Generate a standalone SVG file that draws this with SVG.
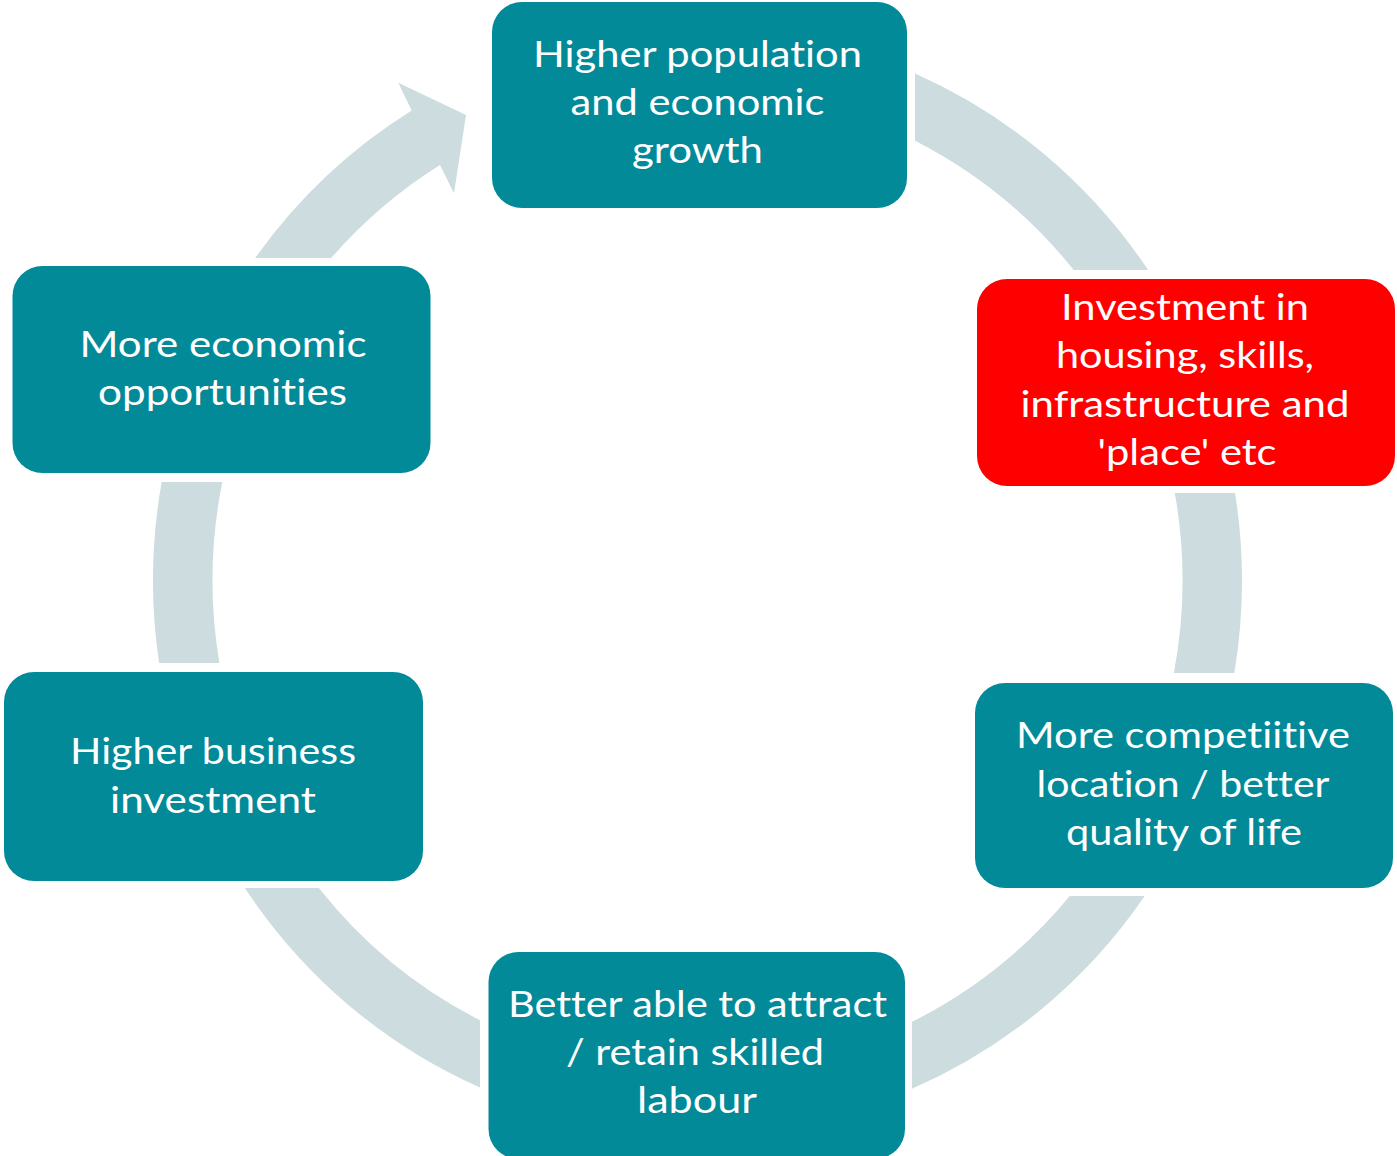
<svg xmlns="http://www.w3.org/2000/svg" width="1397" height="1156" viewBox="0 0 1397 1156">
  <style>
    .ring { fill: #CDDCDF; }
    .box { fill: #028A99; }
    .box.red { fill: #FF0000; }
    .lbl { fill: #FFFFFF; font-family: Lato, "Open Sans", "Liberation Sans", sans-serif; font-size: 36px; text-anchor: middle; font-variant-ligatures: none; font-feature-settings: "liga" 0, "dlig" 0; }
  </style>
  <rect width="1397" height="1156" fill="#FFFFFF"/>
  <g id="connectors">
    <path class="ring" d="M 915,73.5 A 544.5 553 0 0 1 1148.1,270 L 1073.7,270 A 485 492 0 0 0 915,140.7 Z"/>
    <path class="ring" d="M 1235.1,493 A 544.5 553 0 0 1 1234.3,673 L 1173.9,673 A 485 492 0 0 0 1174.8,493 Z"/>
    <path class="ring" d="M 1144.7,896 A 544.5 553 0 0 1 912,1088.8 L 912,1021.8 A 485 492 0 0 0 1069.7,896 Z"/>
    <path class="ring" d="M 480,1087.5 A 544.5 553 0 0 1 244.9,888 L 318.9,888 A 485 492 0 0 0 480,1020.3 Z"/>
    <path class="ring" d="M 159.1,663 A 544.5 553 0 0 1 161.7,482 L 222.3,482 A 485 492 0 0 0 219.4,663 Z"/>
    <path class="ring" d="M 255.2,258 A 544.5 553 0 0 1 411.7,110.5 L 398.3,82.7 L 466,115 L 454,193.3 L 440,165 A 485 492 0 0 0 331.2,258 Z"/>
  </g>
  <g id="node-growth">
    <rect class="box" x="492" y="2" width="415" height="206" rx="30"/>
    <text class="lbl" x="697.5" y="67" textLength="329" lengthAdjust="spacingAndGlyphs">Higher population</text>
    <text class="lbl" x="697.5" y="115" textLength="254" lengthAdjust="spacingAndGlyphs">and economic</text>
    <text class="lbl" x="697.5" y="163" textLength="131" lengthAdjust="spacingAndGlyphs">growth</text>
  </g>
  <g id="node-investment">
    <rect class="box red" x="977" y="279" width="418" height="207" rx="30"/>
    <text class="lbl" x="1185" y="320" textLength="248" lengthAdjust="spacingAndGlyphs">Investment in</text>
    <text class="lbl" x="1185" y="368" textLength="258" lengthAdjust="spacingAndGlyphs">housing, skills,</text>
    <text class="lbl" x="1185" y="417" textLength="329" lengthAdjust="spacingAndGlyphs">infrastructure and</text>
    <text class="lbl" x="1187" y="465" textLength="179" lengthAdjust="spacingAndGlyphs">'place' etc</text>
  </g>
  <g id="node-competitive">
    <rect class="box" x="975" y="683" width="418" height="205" rx="30"/>
    <text class="lbl" x="1183" y="748" textLength="334" lengthAdjust="spacingAndGlyphs">More competiitive</text>
    <text class="lbl" x="1183" y="797" textLength="293" lengthAdjust="spacingAndGlyphs">location / better</text>
    <text class="lbl" x="1184" y="845" textLength="236" lengthAdjust="spacingAndGlyphs">quality of life</text>
  </g>
  <g id="node-labour">
    <rect class="box" x="488.5" y="952" width="416.5" height="207" rx="30"/>
    <text class="lbl" x="697.5" y="1017" textLength="379" lengthAdjust="spacingAndGlyphs">Better able to attract</text>
    <text class="lbl" x="695" y="1065" textLength="258" lengthAdjust="spacingAndGlyphs">/ retain skilled</text>
    <text class="lbl" x="697" y="1113" textLength="120" lengthAdjust="spacingAndGlyphs">labour</text>
  </g>
  <g id="node-business">
    <rect class="box" x="4" y="672" width="419" height="209" rx="30"/>
    <text class="lbl" x="213" y="764" textLength="286" lengthAdjust="spacingAndGlyphs">Higher business</text>
    <text class="lbl" x="213" y="813" textLength="206" lengthAdjust="spacingAndGlyphs">investment</text>
  </g>
  <g id="node-opportunities">
    <rect class="box" x="12.5" y="266" width="418" height="207" rx="30"/>
    <text class="lbl" x="223" y="357" textLength="287" lengthAdjust="spacingAndGlyphs">More economic</text>
    <text class="lbl" x="222.5" y="405" textLength="249" lengthAdjust="spacingAndGlyphs">opportunities</text>
  </g>
</svg>
